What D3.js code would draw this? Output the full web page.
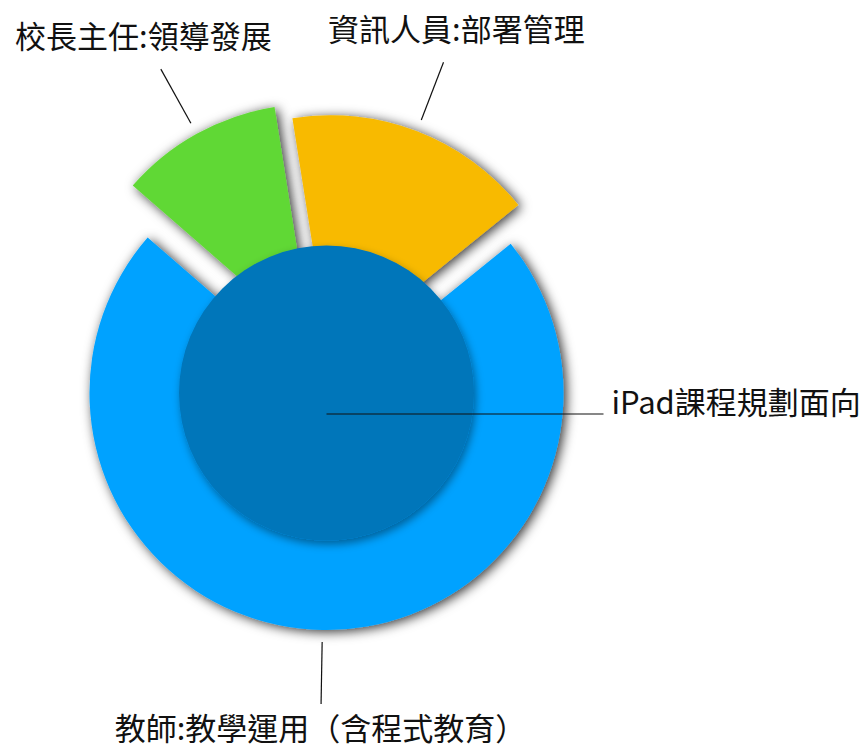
<!DOCTYPE html>
<html>
<head>
<meta charset="utf-8">
<script src="https://cdn.jsdelivr.net/npm/d3@7"></script>
<style>
  html, body { margin: 0; padding: 0; background: #fff; }
  svg { display: block; font-family: "Noto Sans CJK TC", "Noto Sans", sans-serif; }
</style>
</head>
<body>
<svg id="chart"></svg>
<script>
// ── Data ─────────────────────────────────────────────────────────────────────
const roles  = ["校長主任:領導發展", "資訊人員:部署管理", "教師:教學運用（含程式教育）"];
const counts = [4, 6, 26];
const centerTitle = "iPad課程規劃面向";

// ── Style ────────────────────────────────────────────────────────────────────
const W = 867, H = 751;
const colors = ["#61D836", "#F8BA00", "#00A2FF"];
const innerColor = "#0076BA";
// exploded slices: distance + direction (deg) of the pull, and own outer radius
const pop = [
  { dist: 54, dir: -16, r: 237 },
  { dist: 36, dir: 6,   r: 242 },
  { dist: 0,  dir: 0,   r: 237 }
];
const cx = 326.5, cy = 393;
const coreR = 147.5;
const rad = a => a * Math.PI / 180;

const svg = d3.select("#chart").attr("width", W).attr("height", H);

// drop shadows
const defs = svg.append("defs");
defs.append("filter").attr("id", "shadow")
  .attr("x", "-30%").attr("y", "-30%").attr("width", "160%").attr("height", "160%")
  .append("feDropShadow")
  .attr("dx", 3).attr("dy", 2).attr("stdDeviation", 6)
  .attr("flood-color", "#000").attr("flood-opacity", 0.8);
defs.append("filter").attr("id", "coreShadow")
  .attr("x", "-20%").attr("y", "-20%").attr("width", "140%").attr("height", "140%")
  .append("feDropShadow")
  .attr("dx", 2).attr("dy", 4).attr("stdDeviation", 4)
  .attr("flood-color", "#000").attr("flood-opacity", 0.4);

const g = svg.append("g").attr("transform", `translate(${cx},${cy})`);

const pie = d3.pie().sort(null)
  .startAngle(rad(-49)).endAngle(rad(311))
  .value((d, i) => counts[i]);
const slices = pie(roles).map((d, i) => {
  const p = pop[i];
  return {
    ...d, i, name: roles[i], r: p.r,
    ox: p.dist * Math.sin(rad(p.dir)),
    oy: -p.dist * Math.cos(rad(p.dir))
  };
});

// draw the big slice first so the popped ones sit above it
const order = [2, 0, 1];
g.selectAll("path.slice")
  .data(order.map(i => slices[i]))
  .join("path")
  .attr("class", "slice")
  .attr("transform", d => `translate(${d.ox},${d.oy})`)
  .attr("d", d => d3.arc().innerRadius(0).outerRadius(d.r)(d))
  .attr("fill", d => colors[d.i])
  .attr("filter", "url(#shadow)");

// inner circle
g.append("circle")
  .attr("r", coreR)
  .attr("fill", innerColor)
  .attr("filter", "url(#coreShadow)");

// leader lines + labels along each slice's mid-angle
const mid = d => (d.startAngle + d.endAngle) / 2;
const pt = (d, rr) => [d.ox + rr * Math.sin(mid(d)), d.oy - rr * Math.cos(mid(d))];

g.selectAll("line.leader")
  .data(slices)
  .join("line")
  .attr("class", "leader")
  .attr("x1", d => pt(d, d.r + 12)[0]).attr("y1", d => pt(d, d.r + 12)[1])
  .attr("x2", d => pt(d, d.r + 74)[0]).attr("y2", d => pt(d, d.r + 74)[1])
  .attr("stroke", "#111").attr("stroke-width", 1.2);

g.selectAll("text.lbl")
  .data(slices)
  .join("text")
  .attr("class", "lbl")
  .attr("x", d => pt(d, d.r + 110)[0])
  .attr("y", d => {
    const up = Math.cos(mid(d)) > 0;
    return pt(d, d.r + 74)[1] + (up ? -35 : 23);
  })
  .attr("text-anchor", "middle")
  .attr("dominant-baseline", "central")
  .attr("font-size", "31px")
  .attr("fill", "#111")
  .text(d => d.name);

// centre label
g.append("line")
  .attr("x1", 0).attr("y1", 21)
  .attr("x2", 277).attr("y2", 21)
  .attr("stroke", "#111").attr("stroke-width", 1.2);
g.append("text")
  .attr("x", 285).attr("y", 7)
  .attr("dominant-baseline", "central")
  .attr("font-size", "31px")
  .attr("fill", "#111")
  .text(centerTitle);
</script>
</body>
</html>
